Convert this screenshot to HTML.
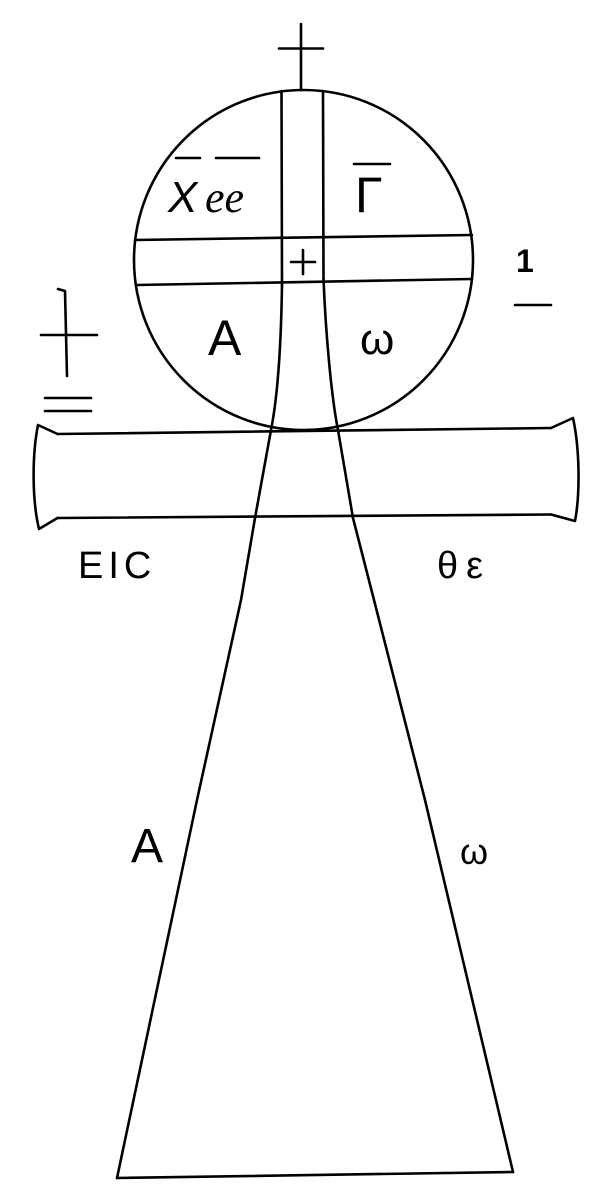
<!DOCTYPE html>
<html><head><meta charset="utf-8"><style>html,body{margin:0;padding:0;background:#fff}svg{display:block}</style></head>
<body>
<svg width="609" height="1200" viewBox="0 0 609 1200" xmlns="http://www.w3.org/2000/svg">
<g fill="none" stroke="#000" stroke-width="2.6" stroke-linecap="round" stroke-linejoin="round">
<line x1="301" y1="24" x2="301" y2="90"/>
<line x1="279" y1="48.5" x2="323" y2="48.5"/>
<ellipse cx="303.5" cy="260" rx="169.5" ry="170"/>
<line x1="281.5" y1="91" x2="282" y2="285"/>
<line x1="323" y1="91" x2="323.5" y2="279"/>
<line x1="135" y1="240" x2="472" y2="235"/>
<line x1="136" y1="285" x2="472" y2="279"/>
<path d="M282 285 C281 350 277 400 271 430 L255 518 L241 600 L197 800 L117 1178"/>
<path d="M323.5 279 C326 340 332 400 338 430 L353 518 L374 600 L425 800 L513 1172"/>
<line x1="117" y1="1178" x2="513" y2="1172"/>
<line x1="57.5" y1="434" x2="551" y2="428"/>
<line x1="57.5" y1="518" x2="551" y2="514.5"/>
<path d="M57.5 434 L38 425 C32 455 32 500 39 529 L57.5 518"/>
<path d="M551 428 L573 418 C580 450 580 495 575 521 L551 514.5"/>
<line x1="176" y1="158" x2="200" y2="158"/>
<line x1="216" y1="158" x2="259" y2="158"/>
<line x1="354" y1="164" x2="390" y2="164"/>
<line x1="303" y1="250" x2="303" y2="274"/>
<line x1="291" y1="262" x2="315" y2="262"/>
<line x1="515" y1="305" x2="551" y2="305"/>
<path d="M58 289 L65 291 L67 376"/>
<line x1="41" y1="335" x2="97" y2="335"/>
<line x1="45" y1="398" x2="91" y2="398"/>
<line x1="45" y1="411" x2="91" y2="411"/>
</g>
<g font-family="'Liberation Sans', 'DejaVu Sans', sans-serif" fill="#000">
<text x="168" y="212" font-size="44" font-style="italic">X</text>
<text x="205" y="212" font-size="44" font-family="'Liberation Serif', serif" font-style="italic">ee</text>
<text x="355" y="212" font-size="50">Γ</text>
<text x="208" y="355" font-size="50">A</text>
<text x="360" y="354" font-size="44">ω</text>
<text x="516" y="272" font-size="32" font-weight="bold">1</text>
<text x="78" y="578" font-size="38" letter-spacing="5">EIC</text>
<text x="437" y="578" font-size="38" letter-spacing="8">θε</text>
<text x="131" y="862" font-size="48">A</text>
<text x="460" y="864" font-size="36">ω</text>
</g>
</svg>
</body></html>
